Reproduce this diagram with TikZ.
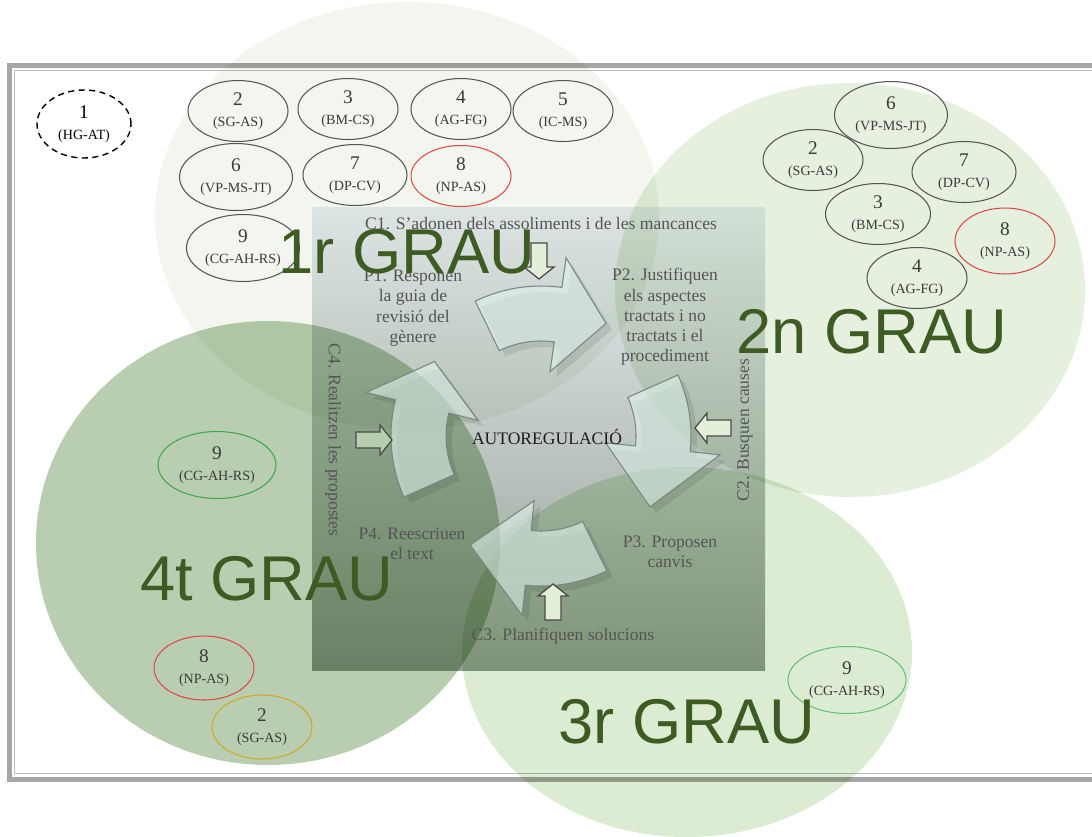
\documentclass[tikz,border=0pt]{standalone}
\usepackage{fontspec}
\setmainfont{Liberation Serif}
\newfontfamily\grausans{Liberation Sans}
\usetikzlibrary{shapes.geometric}
\definecolor{frameout}{HTML}{A6A6A6}
\definecolor{framein}{HTML}{BDBDBD}
\definecolor{grau1}{HTML}{F2F6EE}
\definecolor{grau2}{HTML}{E6F0DE}
\definecolor{grau3}{HTML}{DCECD3}
\definecolor{grau4}{HTML}{B9CEB0}
\definecolor{boxtop}{HTML}{E9EEF5}
\definecolor{boxmid}{HTML}{B0B6CA}
\definecolor{boxbot}{HTML}{93A092}
\definecolor{loopfill}{HTML}{DFF3EA}
\definecolor{loopline}{HTML}{7A8680}
\definecolor{cuefill}{HTML}{E4EFDA}
\definecolor{cuegreen}{HTML}{B7CFAF}
\definecolor{cueline}{HTML}{4A4A4A}
\definecolor{grptext}{HTML}{3A3A3A}
\definecolor{grpline}{HTML}{555555}
\definecolor{grpred}{HTML}{E04848}
\definecolor{grpgreen}{HTML}{3FA652}
\definecolor{grplight}{HTML}{66C07A}
\definecolor{grporange}{HTML}{D2A62A}
\definecolor{cyctext}{HTML}{555555}
\definecolor{autotext}{HTML}{1E1E1E}
\definecolor{grautext}{HTML}{3D5B22}
% curved block arrow of the cycle: (start angle : head base : tip)
\def\cyclearrow[#1](#2:#3:#4){\path[#1] (#2:150) arc[start angle=#2, end angle=#3, radius=150] -- (#3:180) -- (#4:130) -- (#3:65) -- (#3:95) arc[start angle=#3, end angle=#2, radius=95] -- cycle;}
% small straight block arrow
\def\blockarrow[#1](#2)(#3){\path[#1, shift={(#2)}, rotate=#3] (-18,-8) -- (6,-8) -- (6,-15) -- (18,0) -- (6,15) -- (6,8) -- (-18,8) -- cycle;}
\newcommand{\grpnum}[2]{#1\\{\fontsize{8}{9}\selectfont #2}}

\begin{document}
\begin{tikzpicture}[x=0.02cm, y=-0.02cm,
  grp/.style={ellipse, draw=grpline, line width=0.6pt, inner sep=0pt,
    minimum width=2cm, minimum height=1.22cm, align=center, text=grptext,
    font=\fontsize{11}{12}\selectfont},
  wide/.style={minimum width=2.26cm, minimum height=1.34cm},
  cyc/.style={align=center, text=cyctext, inner sep=0pt, font=\fontsize{10}{11.5}\selectfont},
  graulabel/.style={text=grautext, inner sep=0pt, anchor=base, font=\grausans\fontsize{36}{36}\selectfont}]
  \useasboundingbox (0,0) rectangle (1092,836);
  \clip (0,0) rectangle (1092,836);

  % frame
  \draw[frameout, line width=2.8pt] (9.5,65.5) rectangle (1120,779.5);
  \draw[framein, line width=1pt] (14.5,70.5) rectangle (1120,773.5);

  % the four grades
  \begin{scope}[blend mode=multiply]
    \fill[grau1] (407,216) ellipse [x radius=252, y radius=214];
    \fill[grau2] (850,290) ellipse [x radius=235, y radius=207];
    \fill[grau4] (268,543) ellipse [x radius=232, y radius=222];
    \fill[grau3] (687,652) ellipse [x radius=225, y radius=185];
  \end{scope}

  % central box
  \begin{scope}[blend mode=multiply]
    \shade[top color=boxtop, middle color=boxmid, bottom color=boxbot] (312,207) rectangle (765,670);
  \end{scope}

  % cycle
  \begin{scope}[shift={(541,436)}]
    \foreach \a/\b/\c in {-116/-82/-60, -24/6/33, 64/96/123, 156/194/215}{
      \cyclearrow[fill=black, fill opacity=0.09, shift={(6,6)}](\a:\b:\c)
      \cyclearrow[fill=loopfill, fill opacity=0.6, draw=loopline, line width=0.6pt](\a:\b:\c)
    }
  \end{scope}

  \blockarrow[fill=cuefill, draw=cueline, line width=0.7pt](539,261)(-90)
  \blockarrow[fill=cuefill, draw=cueline, line width=0.7pt](713,428)(180)
  \blockarrow[fill=cuefill, draw=cueline, line width=0.7pt](553,602)(90)
  \blockarrow[fill=cuegreen, draw=cueline, line width=0.7pt](374,440)(0)

  % texts of the cycle
  \node[cyc] (c1) at (541,224) {C1. S’adonen dels assoliments i de les mancances};
  \node[cyc] (p1) at (413,308) {P1. Responen\\la guia de\\revisió del\\gènere};
  \node[cyc] (p2) at (665,317) {P2. Justifiquen\\els aspectes\\tractats i no\\tractats i el\\procediment};
  \node[cyc, text=autotext] (auto) at (547,437) {AUTOREGULACIÓ};
  \node[cyc, rotate=90] (c2) at (745,430) {C2. Busquen causes};
  \node[cyc, rotate=-90] (c4) at (333,440) {C4. Realitzen les propostes};
  \node[cyc] (p3) at (670,552) {P3. Proposen\\canvis};
  \node[cyc] (p4) at (412,544) {P4. Reescriuen\\el text};
  \node[cyc] (c3) at (563,636) {C3. Planifiquen solucions};

  % 1r grau
  \node[grp, draw=black, dashed, dash pattern=on 3.5pt off 2.5pt, line width=0.8pt, text=black,
    minimum width=1.88cm, minimum height=1.36cm] (g1a) at (84,124) {\grpnum{1}{(HG-AT)}};
  \node[grp] (g1b) at (238,111) {\grpnum{2}{(SG-AS)}};
  \node[grp] (g1c) at (348,109) {\grpnum{3}{(BM-CS)}};
  \node[grp] (g1d) at (461,109) {\grpnum{4}{(AG-FG)}};
  \node[grp] (g1e) at (563,111) {\grpnum{5}{(IC-MS)}};
  \node[grp, wide] (g1f) at (236,177) {\grpnum{6}{(VP-MS-JT)}};
  \node[grp, minimum width=2.08cm] (g1g) at (355,175) {\grpnum{7}{(DP-CV)}};
  \node[grp, draw=grpred] (g1h) at (461,176) {\grpnum{8}{(NP-AS)}};
  \node[grp, wide] (g1i) at (243,248) {\grpnum{9}{(CG-AH-RS)}};

  % 2n grau
  \node[grp, wide] (g2a) at (891,115) {\grpnum{6}{(VP-MS-JT)}};
  \node[grp] (g2b) at (813,160) {\grpnum{2}{(SG-AS)}};
  \node[grp, minimum width=2.08cm] (g2c) at (964,172) {\grpnum{7}{(DP-CV)}};
  \node[grp, minimum width=2.1cm] (g2d) at (878,214) {\grpnum{3}{(BM-CS)}};
  \node[grp, draw=grpred, minimum height=1.32cm] (g2e) at (1005,241) {\grpnum{8}{(NP-AS)}};
  \node[grp] (g2f) at (917,278) {\grpnum{4}{(AG-FG)}};

  % 4t grau
  \node[grp, wide, draw=grpgreen, minimum width=2.36cm] (g4a) at (217,465) {\grpnum{9}{(CG-AH-RS)}};
  \node[grp, draw=grpred, minimum height=1.28cm] (g4b) at (204,668) {\grpnum{8}{(NP-AS)}};
  \node[grp, draw=grporange, minimum height=1.28cm] (g4c) at (262,727) {\grpnum{2}{(SG-AS)}};

  % 3r grau
  \node[grp, wide, draw=grplight, minimum width=2.36cm] (g3a) at (847,680) {\grpnum{9}{(CG-AH-RS)}};

  % grade titles
  \node[graulabel] (t1) at (407,273) {1r GRAU};
  \node[graulabel] (t2) at (872,353) {2n GRAU};
  \node[graulabel] (t4) at (267,600) {4t GRAU};
  \node[graulabel] (t3) at (687,743) {3r GRAU};
\end{tikzpicture}
\end{document}
